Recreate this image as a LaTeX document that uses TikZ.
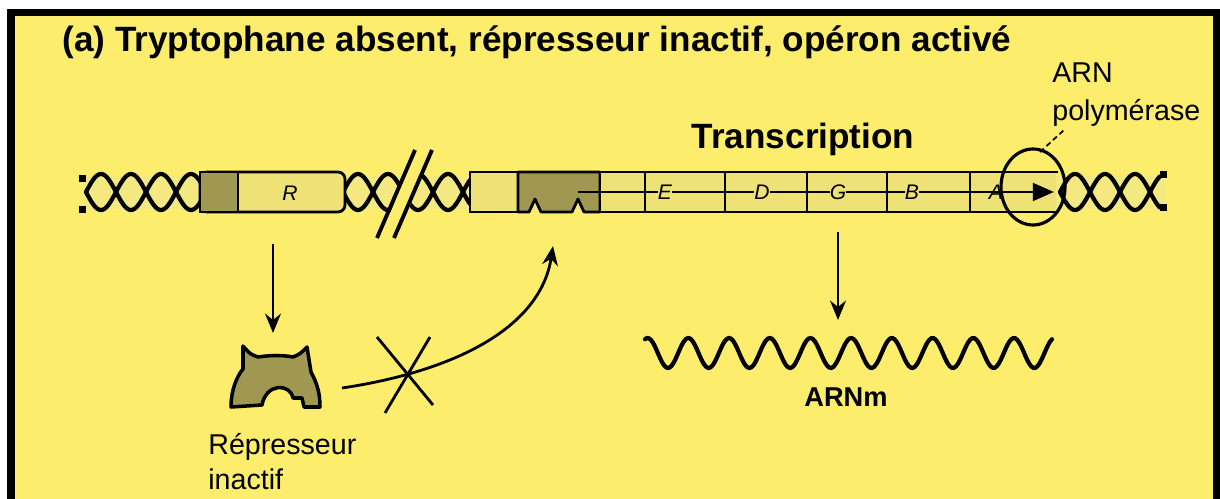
\documentclass[tikz,border=0pt]{standalone}
\usepackage{fontspec}
\setmainfont{Liberation Sans}
\usetikzlibrary{arrows.meta}

\definecolor{fond}{RGB}{252,238,108}
\definecolor{bande}{RGB}{244,232,128}
\definecolor{pale}{RGB}{238,226,118}
\definecolor{ombre}{RGB}{160,152,82}

\tikzset{
  brin/.style={line width=2.4pt, line cap=round},
  boite/.style={draw, line width=1.6pt},
  fleche/.style={-{Stealth[length=11pt,width=9pt]}, line width=1.6pt},
  lettre/.style={font=\fontsize{12}{14}\selectfont\itshape, inner sep=0pt},
  titre/.style={font=\fontsize{20}{24}\selectfont\bfseries, inner sep=0pt},
  gras/.style={font=\fontsize{15.5}{18}\selectfont\bfseries, inner sep=0pt},
  legende/.style={font=\fontsize{16.3}{20}\selectfont, inner sep=0pt},
}

\begin{document}
\begin{tikzpicture}[x=0.02cm, y=-0.02cm]
\useasboundingbox (0,0) rectangle (1220,499);
\fill[white] (0,0) rectangle (1220,499);
\fill[black] (7,9) rectangle (1220,499);
\fill[fond] (15,16) rectangle (1213,499);

% ADN
\fill[bande] (84,176) rectangle (1165,209);
\foreach \a/\b in {86/202, 343/470, 1060/1160} {
  \draw[brin] plot[domain=\a:\b, samples=80, smooth] (\x,{192-18*sin((\x-\a)*6)});
  \draw[brin] plot[domain=\a:\b, samples=80, smooth] (\x,{192+18*sin((\x-\a)*6)});
}
\fill (79,175) rectangle (86,182);
\fill (79,206) rectangle (86,213);
\fill (1160,171) rectangle (1167,178);
\fill (1160,204) rectangle (1167,211);

% coupure
\fill[fond] (379,240) -- (396,240) -- (434,148) -- (417,148) -- cycle;
\draw[line width=2.2pt] (377,238) -- (415,150);
\draw[line width=2.2pt] (394,238) -- (432,150);

% gene R
\draw[boite, fill=pale, rounded corners=4pt] (200,172) rectangle (345,212);
\draw[boite, fill=ombre] (200,172) rectangle (238,212);
\node[lettre] (R) at (290,193) {R};

% promoteur et operateur
\draw[boite, fill=pale] (470,172) rectangle (518,212);
\draw[boite, fill=ombre, line join=round] (518,172) -- (600,172) -- (600,212) -- (584,212)
  -- (578,199) -- (572,212) -- (541,212) -- (535,199) -- (529,212) -- (518,212) -- cycle;

% genes de structure
\fill[pale] (600,172) rectangle (1056,212);
\draw[boite] (600,172) -- (1058,172);
\draw[boite] (600,212) -- (1058,212);
\foreach \xg in {600,645,725,807,887,970}
  \draw[boite] (\xg,172) -- (\xg,212);
\draw[line width=1.6pt, -{Triangle[length=12pt,width=10pt]}] (578,192) -- (1054,192);
\node[lettre, fill=pale] (E) at (665,192) {E};
\node[lettre, fill=pale] (D) at (762,192) {D};
\node[lettre, fill=pale] (G) at (838,192) {G};
\node[lettre, fill=pale] (B) at (912,192) {B};
\node[lettre] (A) at (996,192) {A};

% ARN polymerase
\draw[line width=1.8pt] (1033,187) ellipse [x radius=32, y radius=38];
\coordinate (pol) at (1040,152);
\coordinate (pol-txt) at (1064,130);
\draw[line width=1pt, densely dashed] (pol) -- (pol-txt);

% textes
\node[titre, anchor=base west] (titre) at (62,52) {(a) Tryptophane absent, répresseur inactif, opéron activé};
\node[titre, anchor=base] (transcr) at (803,149) {Transcription};
\node[legende, anchor=base west] (arn) at (1052,83) {ARN};
\node[legende, anchor=base west] (polym) at (1052,121) {polymérase};
\node[legende, anchor=base west] (rep-txt) at (208,455) {Répresseur};
\node[legende, anchor=base west] (inact-txt) at (208,490) {inactif};
\node[gras, anchor=base] (arnm) at (846,407) {ARNm};

% fleches
\coordinate (R-bas) at (273,244);
\coordinate (rep-haut) at (273,333);
\draw[fleche] (R-bas) -- (rep-haut);
\coordinate (G-bas) at (838,232);
\coordinate (arnm-haut) at (838,320);
\draw[fleche] (G-bas) -- (arnm-haut);

% represseur inactif
\draw[line width=2pt, fill=ombre, line join=round] (243,346) .. controls (250,354) .. (258,357)
  .. controls (272,355) and (282,355) .. (293,357) .. controls (300,354) .. (307,347)
  .. controls (309,360) .. (311,372) .. controls (318,385) and (320,395) .. (320,407) -- (304,407) -- (302,398) -- (293,398)
  .. controls (290,383) and (266,383) .. (262,405) -- (231,407)
  .. controls (231,390) and (237,376) .. (243,369) -- cycle;

\coordinate (rep-bord) at (342,388);
\coordinate (operateur) at (553,246);
\draw[fleche] (rep-bord) .. controls (450,372) and (540,330) .. (operateur);
\draw[line width=1.6pt] (377,337) -- (433,405);
\draw[line width=1.6pt] (430,337) -- (385,413);

% ARNm
\draw[brin] plot[domain=645:1052, samples=200, smooth] (\x,{353+15*sin((\x-668)*8.845+90)});
\end{tikzpicture}
\end{document}
